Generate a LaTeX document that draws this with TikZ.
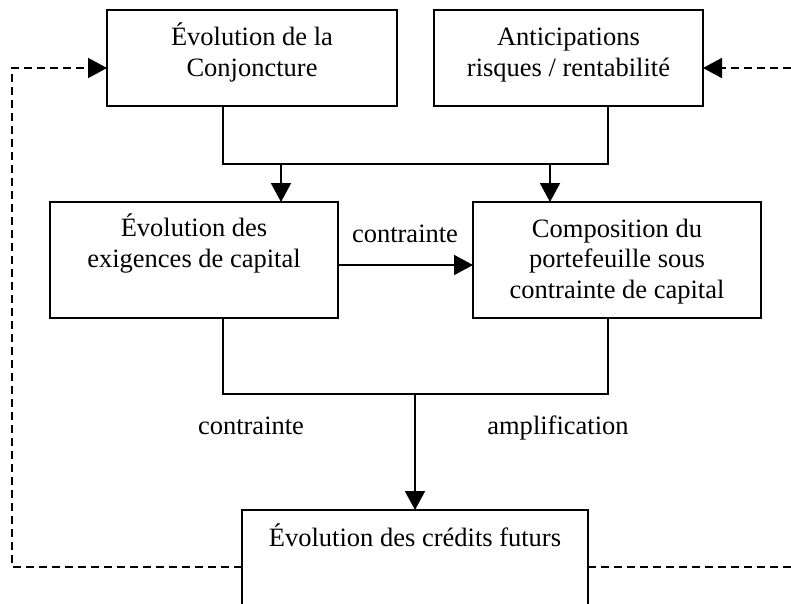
\documentclass[tikz,border=0pt]{standalone}
\usepackage{fontspec}
\setmainfont{Liberation Serif}
\usetikzlibrary{arrows.meta}
\begin{document}
\begin{tikzpicture}[x=1pt,y=-1pt,line width=1.9pt,>={Triangle[length=19pt,width=20pt]},
 every node/.style={font=\fontsize{26.5}{30.5}\selectfont,inner sep=0pt,outer sep=0pt},
 boite/.style={draw,anchor=north west},
 texte/.style={align=center,anchor=base},
 pointille/.style={dash pattern=on 8pt off 5pt}]
\clip (0,0) rectangle (791,603);
\node[boite,minimum width=290pt,minimum height=96pt](conj) at (107,10){};
\node[boite,minimum width=269pt,minimum height=96pt](anti) at (434,10){};
\node[boite,minimum width=288pt,minimum height=116pt](exig) at (50,202){};
\node[boite,minimum width=288pt,minimum height=116pt](compo) at (473,202){};
\node[boite,minimum width=346pt,minimum height=130pt](cred) at (242,510){};
\node[texte](tconj) at ([yshift=-66pt]conj.north){Évolution de la\\Conjoncture};
\node[texte](tanti) at ([yshift=-66pt]anti.north){Anticipations\\risques / rentabilité};
\node[texte](texig) at ([yshift=-65pt]exig.north){Évolution des\\exigences de capital};
\node[texte](tcompo) at ([yshift=-96pt]compo.north){Composition du\\portefeuille sous\\contrainte de capital};
\node[texte](tcred) at ([yshift=-36pt]cred.north){Évolution des crédits futurs};
\node[texte](lmilieu) at (405,242){contrainte};
\node[texte](lgauche) at (251,434){contrainte};
\node[texte](ldroite) at (558,434){amplification};
\coordinate (h1) at (223,164); \coordinate (h2) at (608,164);
\coordinate (a1) at (281,164); \coordinate (a2) at (550,164);
\coordinate (m) at (0,265);
\coordinate (b1) at (223,394); \coordinate (b2) at (608,394); \coordinate (b3) at (415,394);
\coordinate (g1) at (12,567); \coordinate (g2) at (12,68);
\coordinate (d1) at (791,567); \coordinate (d2) at (791,68);
\draw (conj.south -| h1) -- (h1) -- (h2) -- (anti.south -| h2);
\draw[->] (a1) -- (exig.north -| a1);
\draw[->] (a2) -- (compo.north -| a2);
\draw[->] (exig.east |- m) -- (compo.west |- m);
\draw (exig.south -| b1) -- (b1) -- (b2) -- (compo.south -| b2);
\draw[->] (b3) -- (cred.north -| b3);
\draw[pointille,->] (cred.west |- g1) -- (g1) -- (g2) -- (conj.west |- g2);
\draw[pointille] (cred.east |- d1) -- (d1);
\draw[pointille,->] (d2) -- (anti.east |- d2);
\end{tikzpicture}
\end{document}
